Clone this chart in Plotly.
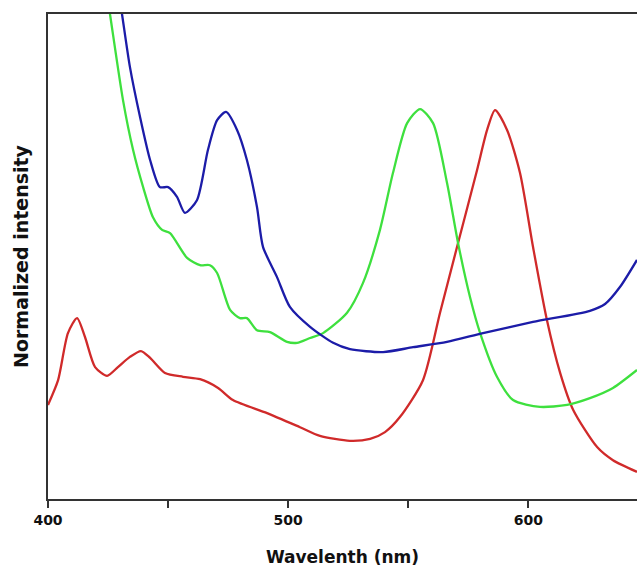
import plotly.graph_objects as go

# Wavelength (nm) and normalized intensity for each spectrum
red_wl = [400.0, 404.2, 408.3, 412.1, 415.4, 419.6, 424.6, 429.1, 434.1, 438.7, 442.5, 448.7,
          456.2, 463.3, 470.8, 477.0, 491.2, 504.9, 513.2, 525.7, 534.1, 540.3, 546.5, 556.1,
          563.2, 570.3, 578.6, 582.8, 586.1, 591.1, 596.5, 601.9, 607.7, 613.2, 618.6, 628.6,
          635.2, 645.2]
red_val = [0.194, 0.245, 0.342, 0.373, 0.334, 0.272, 0.254, 0.272, 0.293, 0.305, 0.291, 0.260,
           0.252, 0.247, 0.229, 0.204, 0.177, 0.148, 0.130, 0.120, 0.124, 0.138, 0.169, 0.245,
           0.384, 0.520, 0.678, 0.761, 0.802, 0.761, 0.672, 0.520, 0.369, 0.260, 0.184, 0.107,
           0.080, 0.056]

green_wl = [423.7, 425.8, 431.2, 435.4, 439.6, 443.7, 447.5, 450.8, 457.9, 463.3, 467.4, 470.4,
            475.8, 479.9, 482.8, 487.0, 492.4, 499.5, 503.7, 509.1, 514.5, 524.5, 531.1, 538.2,
            543.6, 549.5, 554.9, 560.3, 566.1, 570.7, 575.7, 579.9, 586.9, 593.6, 604.8, 616.1,
            625.6, 635.2, 645.2]
green_val = [1.068, 1.0, 0.823, 0.720, 0.643, 0.581, 0.555, 0.548, 0.497, 0.482, 0.482, 0.466,
             0.390, 0.373, 0.373, 0.348, 0.344, 0.324, 0.322, 0.332, 0.342, 0.384, 0.445, 0.555,
             0.672, 0.775, 0.804, 0.775, 0.652, 0.528, 0.416, 0.342, 0.252, 0.204, 0.190, 0.194,
             0.208, 0.229, 0.266]

blue_wl = [429.1, 430.8, 434.1, 438.3, 442.5, 446.6, 450.0, 453.7, 457.0, 462.0, 466.6, 470.4,
           474.1, 478.7, 482.8, 487.0, 489.5, 495.3, 500.7, 509.1, 518.7, 525.7, 539.5, 552.0,
           566.1, 581.1, 601.9, 625.6, 631.9, 638.1, 645.2]
blue_val = [1.054, 1.0, 0.891, 0.788, 0.699, 0.643, 0.643, 0.623, 0.590, 0.616, 0.720, 0.781,
            0.798, 0.761, 0.699, 0.602, 0.520, 0.458, 0.396, 0.355, 0.322, 0.309, 0.303, 0.313,
            0.324, 0.342, 0.365, 0.388, 0.402, 0.437, 0.493]

tick_vals = [400, 450, 500, 550, 600]
tick_text = ["400", "", "500", "", "600"]

fig = go.Figure()
for wl, val, col in [(red_wl, red_val, "#d02a2a"),
                     (green_wl, green_val, "#3ee03e"),
                     (blue_wl, blue_val, "#1c1ca8")]:
    fig.add_trace(go.Scatter(x=wl, y=val, mode="lines",
                             line=dict(color=col, width=2.3, shape="spline", smoothing=0.7),
                             showlegend=False, hoverinfo="skip"))

fig.update_layout(
    width=637, height=572,
    margin=dict(l=48, r=0, t=14, b=73),
    paper_bgcolor="white", plot_bgcolor="white",
    font=dict(family="DejaVu Sans", color="#111"),
    xaxis=dict(range=[400, 645.2], showgrid=False, zeroline=False,
               showline=True, linecolor="#333", linewidth=2, mirror=True,
               ticks="outside", ticklen=7, tickwidth=2, tickcolor="#333",
               tickvals=tick_vals, ticktext=tick_text,
               tickfont=dict(size=14, family="DejaVu Sans", weight="bold"),
               title=dict(text="Wavelenth (nm)", standoff=24,
                          font=dict(size=17, family="DejaVu Sans", weight="bold"))),
    yaxis=dict(range=[0, 1], showgrid=False, zeroline=False,
               showline=True, linecolor="#333", linewidth=2,
               showticklabels=False, ticks="",
               title=dict(text="Normalized intensity", standoff=12,
                          font=dict(size=19, family="DejaVu Sans", weight="bold"))),
)

fig.write_html("out.html", config={"displayModeBar": False},
               post_script="document.body.style.margin='0';document.body.style.overflow='hidden';")
